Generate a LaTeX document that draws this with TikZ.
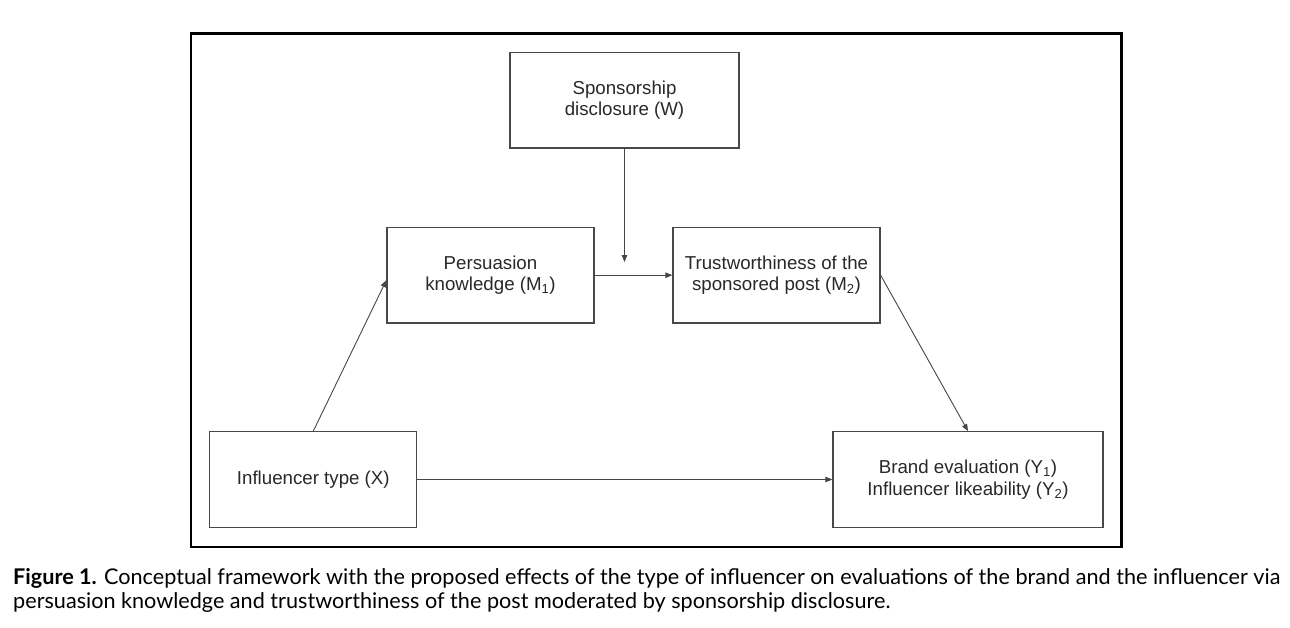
\documentclass[tikz,border=0pt]{standalone}
\usepackage{fontspec}
\setmainfont{Liberation Sans}
\newfontfamily\capfont{Lato}
\usetikzlibrary{arrows.meta,calc}
\definecolor{boxgray}{RGB}{72,72,72}
\definecolor{linegray}{RGB}{70,70,70}
\definecolor{txtgray}{RGB}{40,40,40}
\newsavebox\capA
\newsavebox\capB
\begin{document}
\sbox\capA{\capfont\fontsize{20}{23}\selectfont\textbf{Figure 1.} Conceptual framework with the proposed effects of the type of influencer on evaluations of the brand and the influencer via}%
\sbox\capB{\capfont\fontsize{20}{23}\selectfont persuasion knowledge and trustworthiness of the post moderated by sponsorship disclosure.}%
\pgfmathsetmacro\capk{1267/\the\wd\capA}%
\begin{tikzpicture}[x=1pt,y=-1pt,
  box/.style={draw=boxgray,line width=1.3pt,minimum width=207pt,minimum height=95.5pt,
    inner sep=0pt,align=center,text=txtgray,font=\fontsize{18.7}{21.5}\selectfont},
  conn/.style={draw=linegray,line width=0.9pt,-{Triangle[length=7pt,width=5.5pt]}},
  captext/.style={anchor=base west,inner sep=0pt}]
\useasboundingbox (0,0) rectangle (1290,627);
% outer frame
\draw[line width=2.4pt,black] (190.7,33.3) rectangle (1121.5,546.7);
% boxes
\node[box,minimum width=229pt] (W) at (624.5,100.3) {Sponsorship\\disclosure (W)};
\node[box] (M1) at (490.5,275.2) {Persuasion\\knowledge (M\textsubscript{1})};
\node[box] (M2) at (776.5,275.2) {Trustworthiness of the\\sponsored post (M\textsubscript{2})};
\node[box] (X) at (313.3,479.5) {Influencer type (X)};
\node[box,minimum width=270pt] (Y) at (968,479.5) {Brand evaluation (Y\textsubscript{1})\\Influencer likeability (Y\textsubscript{2})};
% connectors
\coordinate (Wtip) at (624.5,262);
\draw[conn] (W.south) -- (Wtip);
\draw[conn] (M1.east) -- (M2.west);
\draw[conn] (X.north) -- ($(M1.west)+(0,5)$);
\draw[conn] (M2.east) -- (Y.north);
\draw[conn] (X.east) -- (Y.west);
% caption
\node[captext] (cap1) at (13,584) {\scalebox{\capk}{\usebox\capA}};
\node[captext] (cap2) at ($(cap1.base west)+(0,24)$) {\scalebox{\capk}{\usebox\capB}};
\end{tikzpicture}
\end{document}
